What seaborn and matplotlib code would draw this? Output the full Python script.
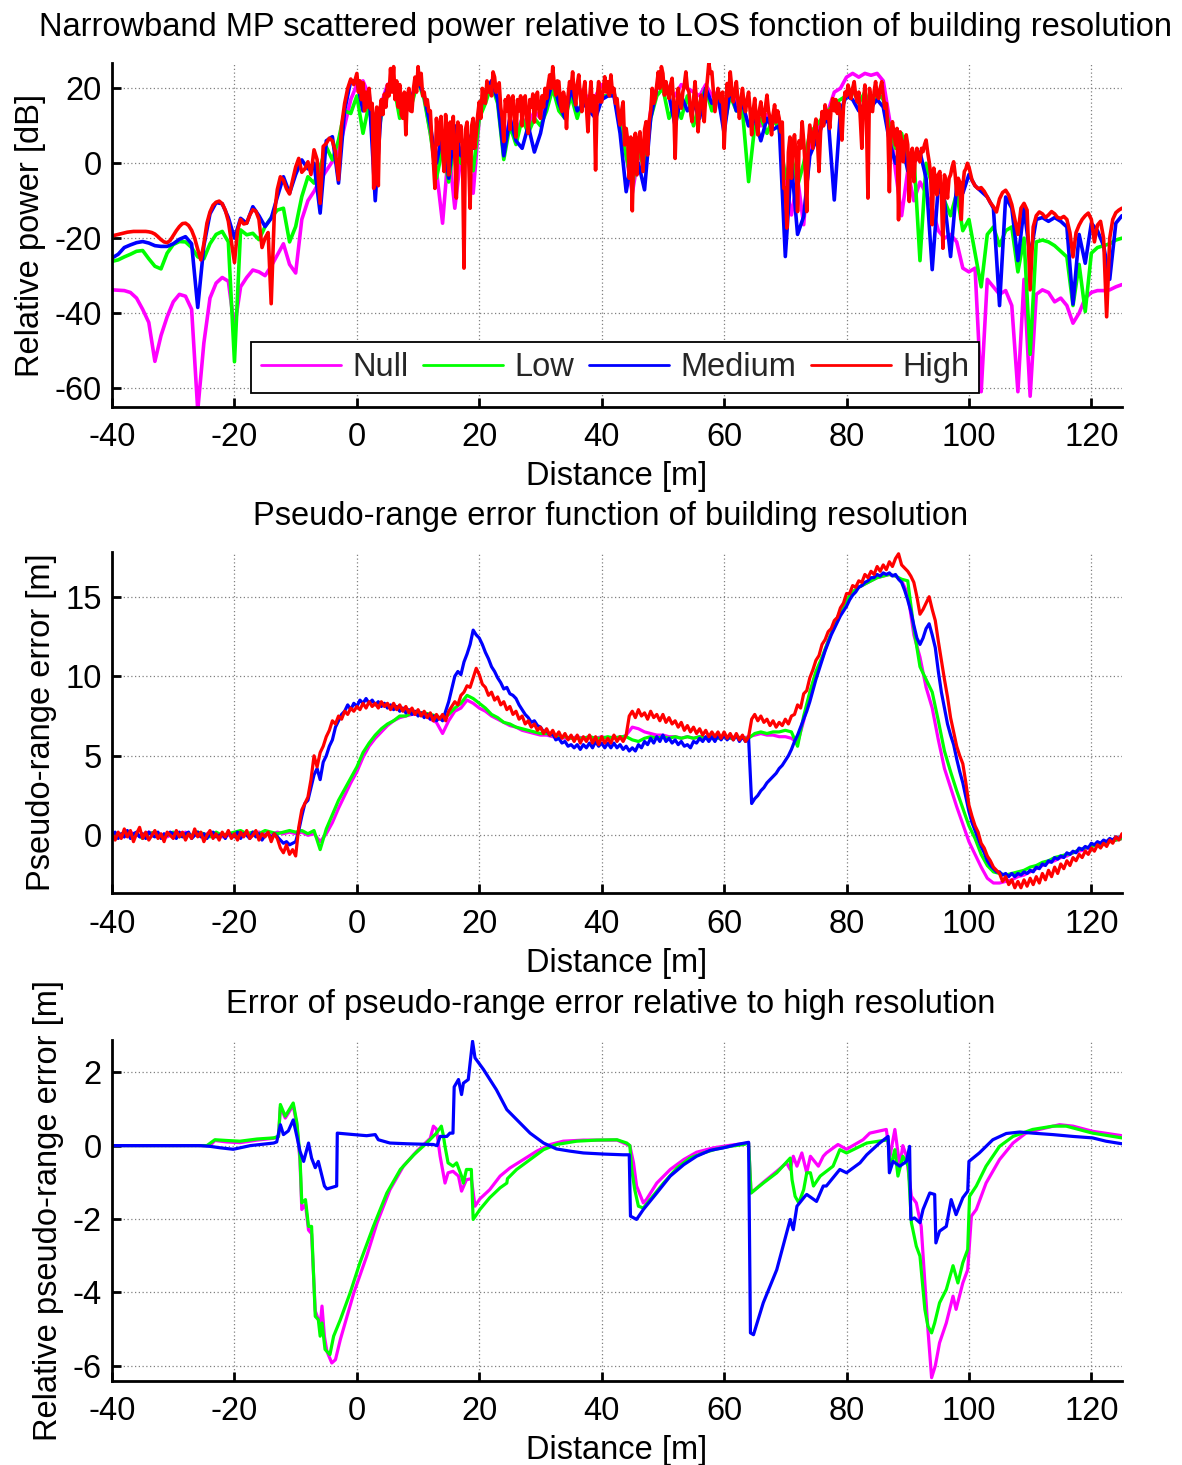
import numpy as np
import matplotlib
matplotlib.use("Agg")
import matplotlib.pyplot as plt
import seaborn as sns

sns.set_theme(style="white")
plt.rcParams['font.family'] = ['Liberation Sans', 'DejaVu Sans']
plt.rcParams['axes.unicode_minus'] = False

# ---------------- data ----------------
dist_fine = np.arange(-40, 125.01, 0.5)    # 0.5 m sampling
dist_coarse = np.arange(-40, 125.01, 1.0)  # 1 m sampling
# High resolution power trace: 0.25 m sampling inside the building zone (0-100 m)
dist_high_p1 = np.concatenate([np.arange(-40, 0, 0.5), np.arange(0, 100, 0.25), np.arange(100, 125.01, 0.5)])

series_names = ["Null", "Low", "Medium", "High"]
series_colors = ["#FF00FF", "#00FF00", "#0000FF", "#FF0000"]

# Panel 1: relative power [dB]
p1_high = [
    # -40 .. -0.5 (0.5 m)
    -19.5, -19.2, -19.0, -18.8, -18.6, -18.4, -18.3, -18.2, -18.2, -18.2, -18.2, -18.2, -18.3, -18.5, -18.9, -19.6, -20.4, -21.0, -21.2, -20.6,
    -19.3, -18.0, -16.9, -16.1, -16.0, -16.6, -17.9, -20.0, -23.0, -25.8, -21.5, -16.0, -13.0, -11.2, -10.4, -10.1, -10.8, -12.5, -15.5, -21.0,
    -26.5, -18.0, -15.0, -16.2, -16.0, -13.8, -12.4, -12.8, -15.0, -22.5, -20.0, -18.5, -37.5, -14.0, -7.0, -3.6, -4.5, -6.8, -8.2, -4.5,
    -1.0, 1.3, -2.4, -1.5, 0.4, -3.0, 3.6, 1.0, -10.7, 4.5, 5.3, 6.7, 6.0, 3.0, -4.4, 10.0, 16.0, 20.0, 22.5, 21.0,
    # 0 .. 99.75 (0.25 m)
    24, 19, 22, 17, 21.5, 14, 19, 15, 20, 14.5, 16, -6.7, 12, 15, -6, 14, 17, 13, 18.5, 15,
    21, 18, 25.3, 19, 25.8, 17, 22, 15, 21, 13, 12, 19, 7.6, 18, 20, 14, 13.8, 20, 23, 19,
    25.8, 21, 24, 18, 19, 15.6, 17, 13.8, 14, 6, 0.4, -6.7, 12, 5, 9, 12.5, 3, -2.2, 13, 6,
    -3.1, 11, 4, 12.5, 2, -9.3, 11, 6, 10, 3, -28, 9, 11, 2, -12, 10, 12, 4, 8, 13,
    16.4, 12, 20, 17, 16, 22, 19, 20.5, 18, 24.4, 23, 19, 20, 21.5, 15, 12, 5.8, 17, 14, 18,
    9, 17, 18, 12, 7, 17, 14, 18, 10, 17, 18, 12, 8, 17, 15, 18.5, 11, 17, 19, 14,
    12, 18, 15, 20, 17.3, 21, 23.6, 20, 25.8, 21, 18.2, 22, 21.8, 16, 13.8, 19, 17, 9.3, 18, 21.8,
    20, 24.4, 19, 15.6, 21, 23.6, 18, 13.8, 19, 21.8, 15, 8.4, 17, 21.8, 13.8, 18, -1.8, 17, 21.8, 16.4,
    16.4, 20, 23.1, 19, 21.8, 18, 23.6, 19, 20, 16, 17.3, 13, 10.2, 14, 16.4, 4.9, 9.3, 6, -4, 7,
    -12.7, 4.9, 8, -3.1, 6, 8.4, 3, -2.2, 9, 11.1, 2.2, 11.1, 14, 20, 16, 17.3, 21, 24.4, 20, 25.8,
    24, 18.2, 21.8, 19, 17.3, 21, 22.7, 16, 1.3, 15, 20, 17, 14.7, 19, 21, 24.4, 20, 19.1, 14, 11.1,
    17, 21.8, 16, 8.4, 15, 18.2, 16, 11.1, 18, 22, 26.7, 24, 24.4, 19, 13.8, 17, 20, 18, 16.4, 19,
    4, 14, 21.3, 18, 24.4, 20, 16.4, 19, 21.8, 17, 12, 17, 20, 16, 13.8, 17, 19, 14, 7.6, 14,
    17.3, 12, 7.6, 14, 16.4, 13, 11.1, 15, 18.2, 14, 12, 7.6, 13, 15.6, 11, 14, 12, 8.4, 11, -6.7,
    -6.7, -17.3, 3, 7, -4, 5, 7.6, 2, -12.9, 6, 4, 11.1, 6, -1.3, -12.9, 5, 10.2, 7, 4, 9,
    11.8, 6, -2.2, 8, 13.8, 10, 15.6, 12, 14, 9.3, 15, 17.3, 14, 17, 13.3, 16, 12, 6.2, 15, 19,
    18, 20.9, 19, 17.3, 20, 21.8, 18, 16.4, 19, 12, 4, 16, 20.9, 12, -9.3, 20, 17, 13.8, 19, 21.8,
    18, 17.3, 20, 21.8, 18, 14.7, 16, 9.3, -7.6, 8, 11.1, 8, 4.9, 9.3, -15.1, 8.4, 6, 0.4, 5, 7.6,
    5, -10.2, 2, 4, -4.9, 2, 4, 1, 0.4, 4, 3.1, 5, 6.2, 3, 0.4, -3, -16.4, -1.3, -4, -8.4,
    -3, -2.2, -8, -22.7, -3.1, -5, -9.3, -4, -3.1, -1, 0.4, -3, -8.4, -4, -5, -15, -6, -2.2, -1.5, 0,
    # 100 .. 125 (0.5 m)
    -1, -4.5, -6, -6.8, -6.5, -7.5, -9, -10.5, -11.6, -13, -9.5, -7.8, -7.2, -8.5, -11, -15, -19, -12, -10.7, -12.5,
    -33.8, -17, -14, -13, -13.5, -14.5, -13.8, -12.9, -13.5, -14.5, -14.7, -14.2, -15, -18.5, -25, -18.5, -16.5, -15, -14, -13.3,
    -15, -21, -16.5, -15.5, -20, -41, -20, -15, -13.2, -12.5, -12,
]
p1_medium = [
    -25.3, -24.3, -22.5, -21.8, -21.2, -20.9, -21.3, -22.0, -22.2, -22.2,
    -21.5, -20.3, -19.6, -21.5, -38.5, -22.0, -13.5, -10.5, -10.8, -14.5,
    -20.0, -14.7, -16.0, -11.6, -14.0, -16.9, -14.7, -9.0, -3.6, -8.0,
    -3.0, 0.9, -1.5, 0.0, -13.3, 6.0, 7.1, -5.3, 14.2, 22.0,
    22, 14, 19, -10, 15, 20, 22, 15, 14, 18,
    22, 18, 10, 0, 8, -4, 10, 2, 8, 4,
    14, 19, 22, 17, 2, 12, 6, 4, 10, 3,
    8, 16, 22, 16, 12, 20, 14, 16, 14, 12,
    17, 18, 18, 8, -7.6, 2, 0, -7.1, 12, 20,
    22, 18, 10, 18, 14, 16, 12, 20, 16, 18,
    8, 20, 14, 16, 10, 12, 6, 12, 9, 10,
    -24.9, 0, -19, -14.2, 2, 6, 10, 12, -9.8, 14,
    18, 17, 14, 16, 15, 17, 15, 6, 0, 6,
    -2, 0, 3, -4, -28.4, -6, -10, -24.9, -6, -8,
    -3, -6, -7.5, -9, -12, -38, -9, -12, -26, -12,
    -25, -15, -14.5, -15.5, -14.5, -15.5, -17, -37.6, -19, -26.7,
    -16, -18, -22, -31, -16, -14,
]
p1_low = [
    -26.2, -25.8, -25.0, -24.3, -23.5, -23.3, -25.5, -27.5, -28.2, -24.0,
    -21.7, -20.9, -21.0, -22.5, -25.0, -25.5, -21.5, -19.0, -18.2, -21.0,
    -53.0, -17.8, -19.1, -18.7, -20.4, -16.9, -14.5, -12.5, -12.0, -21.0,
    -16.9, -8.9, -3.6, -5.3, -0.9, 4.4, 0.9, 6.2, 14.0, 13.3,
    18, 8, 16, 2, 13, 18, 21, 12, 14, 16,
    22, 17, 8, -4, 4, -5, 6, 0, 7, -2,
    12, 16, 21, 16, 1, 10, 5, 12, 8, 12,
    10, 14, 20, 14, 12, 18, 12, 18, 14, 16,
    18, 18, 19, 10, 2, -6, 4, -2, 12, 18,
    20, 12, 16, 12, 18, 10, 16, 20, 14, 18,
    10, 18, 14, 14, -4.9, 10, 12, 8, 12, 9,
    -4, 2, -6, 0, 8, 10, 12, 14, 16, 17,
    18, 20, 16, 19, 14, 19, 17, 10, 4, 8,
    0, 2, -26, 0, -6, -4, -10, -14, -8, -18,
    -15, -24, -33, -19, -17, -22, -18, -17, -29, -20,
    -51, -21, -20.5, -21, -22, -23.5, -25, -38, -27, -39.6,
    -24, -22.5, -22, -21.5, -20.5, -20,
]
p1_null = [
    -33.8, -33.9, -34.0, -34.5, -36.0, -39.0, -42.5, -52.9, -46.0, -41.0,
    -37.0, -35.0, -35.5, -39.0, -66.0, -48.0, -36.0, -32.0, -30.5, -31.5,
    -44.0, -33.0, -30.5, -28.5, -29.0, -30.0, -27.5, -24.5, -21.5, -27.0,
    -29.3, -15.0, -10.0, -7.5, -4.5, -2.0, 0.5, 3.0, 10.0, 17.0,
    21, 22, 18, 4, 16, 21, 22, 14, 15, 18,
    23, 18, 8, -2, -16, 4, -12, 2, 6, -8,
    12, 18, 22, 18, 4, 12, 8, 12, 10, 14,
    12, 16, 22, 16, 14, 21, 20, 19, 17, 18,
    21, 20, 19, 12, 2, -8, 2, 0, 14, 20,
    22, 20, 18, 21, 20, 19, 18, 21, 18, 19,
    12, 21, 16, 15, 10, 13, 10, 13, 11, 10,
    -5, -13.8, -4, -16.4, 4, 8, 12, 14, 19, 20,
    23, 24, 23, 24, 23.5, 24, 22, 12, -2, -14,
    -2, -10, -5, -8, -12, -18, -20, -19, -21, -28,
    -29, -28, -61, -31, -33, -35, -34, -38, -61, -31,
    -62.2, -35, -33.8, -34.5, -37, -36, -38, -42.7, -40, -36,
    -34.5, -34, -34, -33.8, -33, -32.4,
]

# Panel 2: pseudo-range error [m]
p2_high = [
    0.1, -0.3, 0.2, -0.2, 0.4, -0.1, 0.3, -0.4, 0.1, 0.5, -0.2, 0.2, -0.3, 0.0, 0.3, -0.2, 0.1, -0.4, 0.2, 0.0,
    -0.2, 0.3, -0.1, 0.2, -0.3, 0.1, -0.2, 0.4, -0.1, 0.2, -0.4, 0.0, 0.3, -0.2, 0.1, -0.3, 0.2, -0.1, 0.3, -0.2,
    0.1, -0.3, 0.2, -0.1, 0.3, -0.2, 0.0, 0.3, -0.3, 0.1, -0.1, 0.2, -0.4, 0.1, -0.2, -0.8, -1.1, -0.6, -1.2, -0.9,
    -1.3, 0.5, 1.6, 2.0, 2.4, 3.5, 5.0, 4.3, 5.2, 5.6, 6.2, 6.6, 7.2, 7.0, 7.5, 7.3, 7.8, 7.6, 8.0, 7.8,
    8.1, 7.9, 8.3, 8.0, 8.4, 8.1, 8.3, 8.0, 8.4, 8.1, 8.3, 7.9, 8.3, 7.9, 8.2, 7.8, 8.1, 7.7, 8.0, 7.6,
    7.9, 7.5, 7.8, 7.4, 7.7, 7.2, 7.6, 7.3, 7.6, 7.2, 7.8, 8.1, 8.4, 8.2, 8.8, 9.0, 9.4, 9.3, 9.9, 10.5,
    10.1, 9.5, 9.3, 8.8, 9.0, 8.5, 8.7, 8.2, 8.4, 7.9, 8.1, 7.6, 7.8, 7.3, 7.5, 7.0, 7.2, 6.8, 7.0, 6.6,
    6.8, 6.4, 6.7, 6.3, 6.6, 6.2, 6.5, 6.1, 6.4, 6.0, 6.3, 5.9, 6.3, 5.8, 6.2, 5.9, 6.3, 5.8, 6.2, 5.7,
    6.2, 5.8, 6.1, 5.8, 6.3, 5.9, 6.2, 5.9, 6.3, 7.5, 7.8, 7.4, 7.9, 7.5, 7.7, 7.3, 7.8, 7.4, 7.6, 7.2,
    7.6, 7.1, 7.4, 7.0, 7.2, 6.8, 7.1, 6.6, 6.9, 6.5, 6.8, 6.4, 6.7, 6.3, 6.6, 6.2, 6.5, 6.2, 6.5, 6.1,
    6.5, 6.1, 6.4, 6.0, 6.4, 6.0, 6.3, 5.9, 6.2, 7.3, 7.6, 7.2, 7.5, 7.1, 7.3, 6.9, 7.2, 6.8, 7.1, 6.9,
    7.3, 7.0, 7.5, 7.6, 8.2, 8.0, 8.9, 9.1, 9.9, 10.4, 11.0, 11.3, 12.0, 12.3, 12.8, 13.0, 13.5, 13.7, 14.3, 14.6,
    15.2, 15.2, 15.7, 15.6, 16.0, 15.9, 16.4, 16.2, 16.6, 16.4, 16.9, 16.6, 17.0, 16.7, 17.2, 16.9, 17.4, 17.7, 17.0, 16.8,
    16.6, 16.3, 15.9, 15.0, 13.9, 14.2, 14.6, 15.0, 14.2, 13.5, 12.2, 11.0, 9.8, 8.7, 7.4, 6.5, 5.6, 5.0, 4.5, 3.3,
    1.9, 1.2, 0.6, 0.2, -0.5, -0.8, -1.3, -1.6, -2.0, -2.2, -2.4, -2.9, -2.6, -3.1, -2.8, -3.3, -2.9, -3.3, -2.8, -3.2,
    -2.7, -3.1, -2.6, -3.0, -2.4, -2.8, -2.2, -2.6, -2.0, -2.4, -1.8, -2.1, -1.6, -1.9, -1.4, -1.6, -1.2, -1.4, -1.0, -1.2,
    -0.8, -1.0, -0.6, -0.8, -0.5, -0.7, -0.3, -0.5, -0.1, -0.3, 0.1,
]
p2_medium = [
    0.0, 0.2, -0.2, 0.1, -0.1, 0.3, -0.2, 0.1, 0.2, -0.1, 0.1, -0.2, 0.2, 0.0, -0.1, 0.2, -0.2, 0.1, 0.0, 0.2,
    0.1, -0.2, 0.2, -0.1, 0.1, 0.2, -0.2, 0.0, 0.2, -0.1, 0.1, -0.2, 0.1, 0.2, -0.1, 0.0, 0.1, -0.2, 0.2, 0.0,
    -0.1, 0.2, -0.2, 0.1, 0.0, -0.2, 0.2, -0.1, 0.1, -0.3, 0.0, 0.1, -0.2, 0.1, -0.1, -0.3, -0.5, -0.4, -0.6, -0.5,
    -0.4, 0.3, 1.2, 2.0, 2.2, 3.0, 3.8, 4.2, 3.5, 4.6, 5.0, 5.6, 6.0, 6.8, 7.2, 7.6, 7.8, 8.2, 7.9, 8.3,
    8.1, 8.5, 8.3, 8.6, 8.3, 8.5, 8.2, 8.4, 8.1, 8.3, 8.0, 8.2, 7.9, 8.1, 7.8, 8.0, 7.7, 7.9, 7.6, 7.8,
    7.5, 7.7, 7.4, 7.6, 7.3, 7.5, 7.2, 7.4, 7.2, 7.8, 8.4, 9.2, 10.0, 10.3, 10.1, 10.9, 11.4, 12.0, 12.9, 12.6,
    12.4, 12.0, 11.5, 11.1, 10.6, 10.3, 9.9, 9.6, 9.2, 9.3, 8.9, 8.8, 8.6, 8.2, 7.9, 7.6, 7.4, 7.1, 7.2, 6.9,
    6.8, 6.5, 6.6, 6.3, 6.4, 6.0, 6.1, 5.8, 5.9, 5.6, 5.7, 5.5, 5.7, 5.4, 5.7, 5.5, 5.8, 5.5, 5.9, 5.6,
    5.8, 5.5, 5.8, 5.5, 5.8, 5.5, 5.7, 5.4, 5.6, 5.3, 5.5, 5.3, 5.7, 5.5, 5.9, 5.7, 6.1, 5.8, 6.2, 5.9,
    6.3, 5.9, 6.1, 5.8, 6.0, 5.7, 5.9, 5.6, 5.7, 5.5, 5.9, 5.8, 6.1, 5.9, 6.2, 5.9, 6.2, 5.9, 6.3, 6.0,
    6.3, 6.0, 6.3, 6.0, 6.3, 5.9, 6.2, 5.9, 6.1, 2.0, 2.3, 2.5, 2.8, 3.0, 3.3, 3.5, 3.7, 3.9, 4.2, 4.4,
    4.7, 5.0, 5.4, 5.9, 6.3, 6.8, 7.3, 7.8, 8.4, 9.1, 9.8, 10.4, 11.0, 11.6, 12.1, 12.6, 13.0, 13.4, 13.8, 14.1,
    14.4, 14.8, 15.1, 15.3, 15.6, 15.7, 15.9, 16.0, 16.2, 16.2, 16.4, 16.3, 16.5, 16.4, 16.5, 16.3, 16.4, 16.1, 15.9, 15.4,
    14.8, 14.1, 13.2, 12.4, 12.0, 12.4, 13.0, 13.3, 12.6, 11.8, 10.3, 9.0, 8.0, 7.0, 6.3, 5.7, 4.8, 4.0, 3.3, 2.4,
    1.5, 0.8, 0.3, -0.2, -0.7, -1.1, -1.6, -1.9, -2.1, -2.3, -2.3, -2.5, -2.4, -2.6, -2.4, -2.6, -2.4, -2.5, -2.3, -2.4,
    -2.2, -2.3, -2.0, -2.1, -1.8, -1.9, -1.6, -1.7, -1.4, -1.5, -1.3, -1.4, -1.1, -1.2, -1.0, -1.1, -0.8, -0.9, -0.7, -0.8,
    -0.5, -0.6, -0.4, -0.5, -0.3, -0.4, -0.2, -0.3, -0.1, -0.2, 0.0,
]
p2_low = [
    0.1, -0.1, 0.2, 0.0, 0.1, -0.2, 0.1, 0.2, -0.1, 0.0,
    0.2, -0.1, 0.1, 0.0, 0.2, 0.1, -0.1, 0.2, 0.0, 0.1,
    0.2, 0.3, 0.1, 0.2, 0.1, 0.3, 0.2, 0.1, 0.2, 0.3,
    0.2, 0.3, 0.1, 0.3, -0.9, 0.4, 1.3, 2.2, 2.9, 3.6,
    4.3, 5.2, 5.8, 6.3, 6.7, 7.0, 7.2, 7.5, 7.5, 7.7,
    7.7, 7.7, 7.6, 7.5, 7.3, 7.6, 8.0, 8.3, 8.8, 8.6,
    8.3, 8.0, 7.6, 7.4, 7.1, 7.0, 6.8, 6.7, 6.6, 6.5,
    6.4, 6.4, 6.3, 6.2, 6.2, 6.1, 6.1, 6.1, 6.2, 6.1,
    6.1, 6.2, 6.1, 6.2, 6.2, 6.0, 5.9, 6.1, 6.2, 6.1,
    6.2, 6.1, 6.2, 6.1, 6.2, 6.1, 6.2, 6.1, 6.2, 6.1,
    6.2, 6.1, 6.2, 6.1, 6.1, 6.4, 6.5, 6.4, 6.5, 6.5,
    6.6, 6.5, 5.6, 7.5, 9.0, 10.3, 11.2, 12.2, 13.2, 14.1,
    14.8, 15.3, 15.6, 15.8, 16.0, 16.2, 16.3, 16.4, 16.3, 16.1,
    16.0, 13.0, 10.6, 9.8, 9.0, 7.2, 5.3, 4.0, 2.8, 1.7,
    0.6, -0.2, -1.2, -1.9, -2.3, -2.4, -2.5, -2.4, -2.3, -2.2,
    -2.0, -1.9, -1.7, -1.6, -1.4, -1.3, -1.2, -1.1, -0.9, -0.8,
    -0.7, -0.6, -0.5, -0.4, -0.3, -0.2,
]
p2_null = [
    0.0, 0.1, -0.1, 0.2, 0.0, -0.1, 0.2, 0.1, 0.0, -0.1,
    0.1, 0.0, 0.2, -0.1, 0.1, 0.0, 0.2, 0.1, -0.1, 0.0,
    0.1, 0.2, 0.0, 0.1, 0.2, 0.1, 0.0, 0.2, 0.1, 0.2,
    0.1, 0.2, 0.0, 0.1, -0.4, 0.1, 0.8, 1.7, 2.5, 3.3,
    4.0, 4.9, 5.6, 6.1, 6.5, 6.9, 7.2, 7.4, 7.5, 7.6,
    7.6, 7.6, 7.3, 7.1, 6.4, 7.2, 7.8, 8.0, 8.5, 8.3,
    8.0, 7.8, 7.5, 7.3, 7.1, 6.9, 6.8, 6.6, 6.5, 6.4,
    6.3, 6.3, 6.2, 6.2, 6.1, 6.1, 6.2, 6.1, 6.2, 6.1,
    6.2, 6.1, 6.2, 6.1, 6.3, 6.8, 6.7, 6.5, 6.4, 6.3,
    6.3, 6.2, 6.2, 6.1, 6.2, 6.1, 6.2, 6.1, 6.2, 6.1,
    6.2, 6.1, 6.2, 6.1, 6.2, 6.3, 6.4, 6.3, 6.3, 6.2,
    6.2, 6.1, 5.8, 7.2, 8.9, 10.2, 11.1, 12.2, 13.2, 14.1,
    14.8, 15.3, 15.6, 15.8, 16.0, 16.2, 16.3, 16.4, 16.3, 16.0,
    15.2, 12.6, 11.2, 9.3, 8.0, 6.0, 4.2, 3.0, 1.8, 0.7,
    -0.4, -1.2, -2.0, -2.7, -3.0, -3.0, -2.9, -2.8, -2.6, -2.5,
    -2.3, -2.1, -1.9, -1.7, -1.6, -1.4, -1.3, -1.1, -1.0, -0.9,
    -0.7, -0.6, -0.5, -0.4, -0.3, -0.2,
]

# Panel 3: pseudo-range error relative to high resolution [m], (distance, value)
p3_medium = [
    (-40, 0), (-25.6, 0), (-24, -0.02), (-22.3, -0.06), (-20.2, -0.1), (-17.4, 0), (-13.6, 0.07), (-13.1, 0.1),
    (-12.5, 0.57), (-12, 0.3), (-11.2, 0.4), (-10.4, 0.7), (-9.8, 0.25), (-9.3, -0.15), (-8.7, -0.43), (-7.9, 0.07),
    (-7.4, -0.34), (-6.8, -0.6), (-6.3, -0.43), (-5.7, -0.83), (-5.3, -1.1), (-4.9, -1.18), (-3.3, -1.1), (-3.2, 0.34),
    (-0.5, 0.3), (1.6, 0.27), (3, 0.3), (3.5, 0.16), (5.4, 0.07), (8.2, 0.05), (12.5, 0.03), (13.1, 0), (13.6, 0.25),
    (14.7, 0.25), (15.2, 0.34), (15.7, 0.34), (15.9, 1.6), (16.6, 1.8), (17.1, 1.39), (17.4, 1.7), (18.2, 1.8),
    (18.5, 2.25), (18.9, 2.84), (19.3, 2.39), (20.7, 2.07), (22.8, 1.52), (24.5, 0.98), (26.1, 0.71), (28.3, 0.34),
    (30.5, 0.07), (32.6, -0.09), (34.8, -0.15), (37, -0.2), (40.3, -0.23), (43.5, -0.25), (44.5, -0.25), (44.7, -1.92),
    (45.7, -2.01), (46.8, -1.74), (49, -1.29), (51.2, -0.83), (53.4, -0.52), (55.5, -0.29), (57.7, -0.13), (59.9, -0.06),
    (62.1, 0.03), (64, 0.09), (64.3, -5.1), (64.8, -5.15), (66.4, -4.28), (68.6, -3.38), (70.8, -2.01), (71.3, -2.29),
    (71.9, -1.65), (73.2, -1.38), (73.5, -1.33), (75.1, -1.52), (76.2, -1.1), (76.7, -1.1), (78.9, -0.65), (80, -0.74),
    (82.2, -0.47), (83.3, -0.25), (85.4, 0.07), (86.8, 0.25), (87, -0.74), (87.6, -0.43), (88.7, -0.56), (89.8, -0.43),
    (90.3, -0.02), (90.5, -2.01), (91.1, -1.97), (92, -2.1), (92.5, -1.74), (93.6, -1.29), (94.4, -1.33), (94.6, -2.65),
    (95.2, -2.33), (96.3, -2.2), (97.1, -1.47), (97.9, -1.88), (99, -1.42), (99.8, -1.24), (100, -0.43), (101.7, -0.2),
    (103.9, 0.16), (106.1, 0.33), (108.3, 0.37), (110.4, 0.34), (113.7, 0.3), (117, 0.25), (120.2, 0.21), (122.4, 0.12),
    (125, 0.05),
]
p3_low = [
    (-40, 0), (-24.5, 0), (-23.2, 0.16), (-21.3, 0.14), (-19.1, 0.12), (-16.3, 0.18), (-13.6, 0.21), (-12.8, 0.25),
    (-12.5, 1.12), (-11.7, 0.8), (-10.4, 1.16), (-9.8, 0.62), (-9.3, -0.29), (-9.0, -1.56), (-8.4, -1.47), (-7.9, -2.2),
    (-7.4, -2.2), (-6.8, -4.65), (-6.3, -4.74), (-6.0, -5.19), (-5.7, -4.83), (-5.2, -5.55), (-4.4, -5.69), (-3.8, -5.19),
    (-2.7, -4.74), (-1.1, -4.01), (0.5, -3.19), (2.7, -2.2), (4.9, -1.29), (7.1, -0.65), (9.3, -0.25), (11.4, 0.07),
    (13.0, 0.34), (13.8, 0.53), (14.1, 0.3), (14.4, -0.02), (14.9, -0.47), (15.7, -0.56), (16.3, -0.47), (17.1, -0.83),
    (17.4, -1.02), (17.9, -0.65), (18.7, -0.65), (19.0, -2.01), (20.1, -1.74), (21.7, -1.42), (23.4, -1.15), (24.5, -1.02),
    (24.6, -0.9), (26.1, -0.65), (28.3, -0.38), (30.5, -0.11), (32.6, 0.03), (35.9, 0.12), (39.2, 0.15), (42.5, 0.16),
    (44.1, 0.07), (44.6, 0.0), (44.9, -0.65), (45.4, -1.2), (46.0, -1.65), (46.8, -1.7), (47.9, -1.47), (50.1, -1.02),
    (52.3, -0.61), (54.4, -0.34), (56.6, -0.2), (58.8, -0.09), (61.0, -0.02), (63.2, 0.03), (64.0, 0.07), (64.4, -1.29),
    (66.4, -1.02), (68.6, -0.74), (70.8, -0.34), (71.1, -0.93), (71.6, -1.38), (72.2, -1.56), (73.0, -1.2), (73.5, -0.74),
    (74.1, -0.74), (74.6, -1.1), (75.7, -0.83), (77.8, -0.56), (78.9, -0.11), (80.0, -0.2), (83.3, 0.07), (86.8, 0.16),
    (87.1, -0.65), (87.9, -0.11), (88.4, -0.83), (89.2, -0.29), (90.1, -0.56), (90.6, -2.1), (91.4, -2.74), (92.0, -3.01),
    (92.8, -4.46), (93.3, -4.92), (93.9, -5.1), (94.4, -4.83), (95.2, -4.28), (96.3, -3.92), (97.4, -3.27), (98.2, -3.74),
    (99.0, -3.19), (99.8, -2.83), (100.1, -1.38), (101.2, -1.1), (102.8, -0.56), (105.0, -0.02), (107.2, 0.25),
    (110.4, 0.44), (113.7, 0.53), (115.9, 0.53), (120.2, 0.34), (125.0, 0.21),
]
p3_null = [
    (-40, 0), (-24, 0), (-23.2, 0.14), (-21.3, 0.1), (-19.1, 0.08), (-16.3, 0.15), (-13.6, 0.2), (-12.8, 0.25),
    (-12.5, 1.05), (-11.7, 0.75), (-10.4, 1.1), (-9.8, 0.55), (-9.3, -0.4), (-9.0, -1.74), (-8.4, -1.6), (-7.9, -2.3),
    (-7.4, -2.4), (-6.8, -4.5), (-6.3, -4.74), (-6.0, -4.9), (-5.7, -4.37), (-5.3, -5.2), (-4.9, -5.6), (-4.1, -5.92),
    (-3.5, -5.83), (-2.7, -5.28), (-0.5, -4.01), (1.6, -3.01), (3.3, -2.1), (5.4, -1.2), (7.6, -0.56), (9.8, -0.15),
    (12.0, 0.2), (12.5, 0.53), (13.0, 0.45), (13.6, -0.29), (14.4, -1.02), (14.9, -0.74), (15.7, -0.7), (16.6, -0.83),
    (17.1, -1.24), (17.9, -0.93), (18.7, -0.9), (19.3, -1.65), (20.1, -1.45), (21.7, -1.2), (23.4, -0.83), (25.0, -0.61),
    (27.2, -0.38), (29.4, -0.15), (31.6, 0.03), (33.7, 0.12), (37.0, 0.15), (42.5, 0.15), (44.6, 0.0), (45.2, -0.47),
    (45.7, -1.1), (46.8, -1.56), (47.3, -1.47), (49.0, -1.02), (51.2, -0.65), (53.4, -0.38), (55.5, -0.18), (58.3, -0.06),
    (61.0, 0.01), (64.0, 0.07), (64.4, -1.29), (66.4, -1.0), (68.6, -0.7), (70.2, -0.47), (70.8, -0.65), (71.3, -0.29),
    (71.9, -0.56), (72.7, -0.2), (73.5, -0.74), (74.1, -0.29), (75.4, -0.56), (76.2, -0.29), (76.7, -0.2), (78.6, 0.03),
    (80.0, -0.1), (82.7, 0.16), (83.8, 0.34), (86.5, 0.44), (87.1, -0.29), (87.9, 0.44), (88.7, -0.56), (89.2, 0.0),
    (89.8, -0.29), (90.6, -1.38), (91.4, -1.56), (92.2, -2.2), (92.8, -3.74), (93.3, -5.01), (93.9, -6.32), (94.5, -6.0),
    (95.2, -5.37), (96.3, -4.83), (97.4, -4.1), (97.9, -4.46), (99.0, -3.74), (99.8, -3.38), (100.4, -1.92),
    (101.2, -1.74), (102.8, -1.02), (105.0, -0.38), (107.2, 0.07), (109.3, 0.34), (111.5, 0.44), (114.8, 0.57),
    (117.0, 0.53), (120.2, 0.39), (125.0, 0.27),
]

x_ticks = [-40, -20, 0, 20, 40, 60, 80, 100, 120]
p1_yticks = [-60, -40, -20, 0, 20]
p2_yticks = [0, 5, 10, 15]
p3_yticks = [-6, -4, -2, 0, 2]

titles = [
    "Narrowband MP scattered power relative to LOS fonction of building resolution",
    "Pseudo-range error function of building resolution",
    "Error of pseudo-range error relative to high resolution",
]
ylabels = ["Relative power [dB]", "Pseudo-range error [m]", "Relative pseudo-range error [m]"]
xlabel = "Distance [m]"

for arr, grid in [(p1_high, dist_high_p1), (p1_medium, dist_coarse), (p1_low, dist_coarse), (p1_null, dist_coarse),
                  (p2_high, dist_fine), (p2_medium, dist_fine), (p2_low, dist_coarse), (p2_null, dist_coarse)]:
    assert len(arr) == len(grid), (len(arr), len(grid))

# ---------------- figure ----------------
FS = 23.5
LW1 = 2.6
LW = 2.3
fig = plt.figure(figsize=(11.82, 14.65), dpi=100)
ax1 = fig.add_axes([0.0948, 0.7224, 0.8544, 0.2344])
ax2 = fig.add_axes([0.0948, 0.3902, 0.8544, 0.2332])
ax3 = fig.add_axes([0.0948, 0.0576, 0.8544, 0.2326])


def style(ax, ylim, yticks, title, ylabel, title_x):
    ax.set_xlim(-40, 125)
    ax.set_ylim(*ylim)
    ax.set_xticks(x_ticks)
    ax.set_yticks(yticks)
    ax.set_axisbelow(True)
    ax.grid(True, linestyle=(0, (1, 2)), color="#808080", linewidth=0.9)
    for s in ["top", "right"]:
        ax.spines[s].set_visible(False)
    for s in ["left", "bottom"]:
        ax.spines[s].set_linewidth(2.0)
        ax.spines[s].set_color("black")
    ax.tick_params(direction="in", length=6.5, width=2.0, labelsize=FS, colors="black",
                   left=True, bottom=True)
    ax.tick_params(axis="x", pad=11)
    ax.tick_params(axis="y", pad=7.5)
    ax.set_xlabel(xlabel, fontsize=FS, labelpad=6, color="black")
    ax.set_ylabel(ylabel, fontsize=FS, labelpad=6, color="black")
    t = ax.set_title(title, fontsize=FS, pad=19.5, color="black")
    t.set_x(title_x)


# Panel 1
p1_data = [(dist_coarse, p1_null), (dist_coarse, p1_low), (dist_coarse, p1_medium), (dist_high_p1, p1_high)]
for (xg, yv), name, col in zip(p1_data, series_names, series_colors):
    sns.lineplot(x=xg, y=np.asarray(yv, float), ax=ax1, color=col, linewidth=LW1,
                 label=name, estimator=None, sort=False)
style(ax1, (-65, 26.7), p1_yticks, titles[0], ylabels[0], 0.489)
handles, labels = ax1.get_legend_handles_labels()
leg = ax1.legend(handles, labels, loc="lower left", bbox_to_anchor=(0.1376, 0.04), ncol=4,
                 frameon=True, fancybox=False, edgecolor="black", framealpha=1.0, fontsize=FS,
                 handlelength=2.45, handletextpad=0.35, columnspacing=0.45, borderpad=0.3,
                 borderaxespad=0.0)
leg.get_frame().set_linewidth(1.3)
for h in leg.get_lines():
    h.set_linewidth(2.0)

# Panel 2
p2_data = [(dist_coarse, p2_null), (dist_coarse, p2_low), (dist_fine, p2_medium), (dist_fine, p2_high)]
for (xg, yv), col in zip(p2_data, series_colors):
    sns.lineplot(x=xg, y=np.asarray(yv, float), ax=ax2, color=col, linewidth=LW,
                 estimator=None, sort=False, legend=False)
style(ax2, (-3.65, 17.83), p2_yticks, titles[1], ylabels[1], 0.494)

# Panel 3 (relative to High: Null, Low, Medium)
for pts, col in zip([p3_null, p3_low, p3_medium], series_colors[:3]):
    arr = np.asarray(pts, float)
    sns.lineplot(x=arr[:, 0], y=arr[:, 1], ax=ax3, color=col, linewidth=LW,
                 estimator=None, sort=False, legend=False)
style(ax3, (-6.4, 2.88), p3_yticks, titles[2], ylabels[2], 0.494)

fig.savefig("out.png", dpi=100, facecolor="white")
